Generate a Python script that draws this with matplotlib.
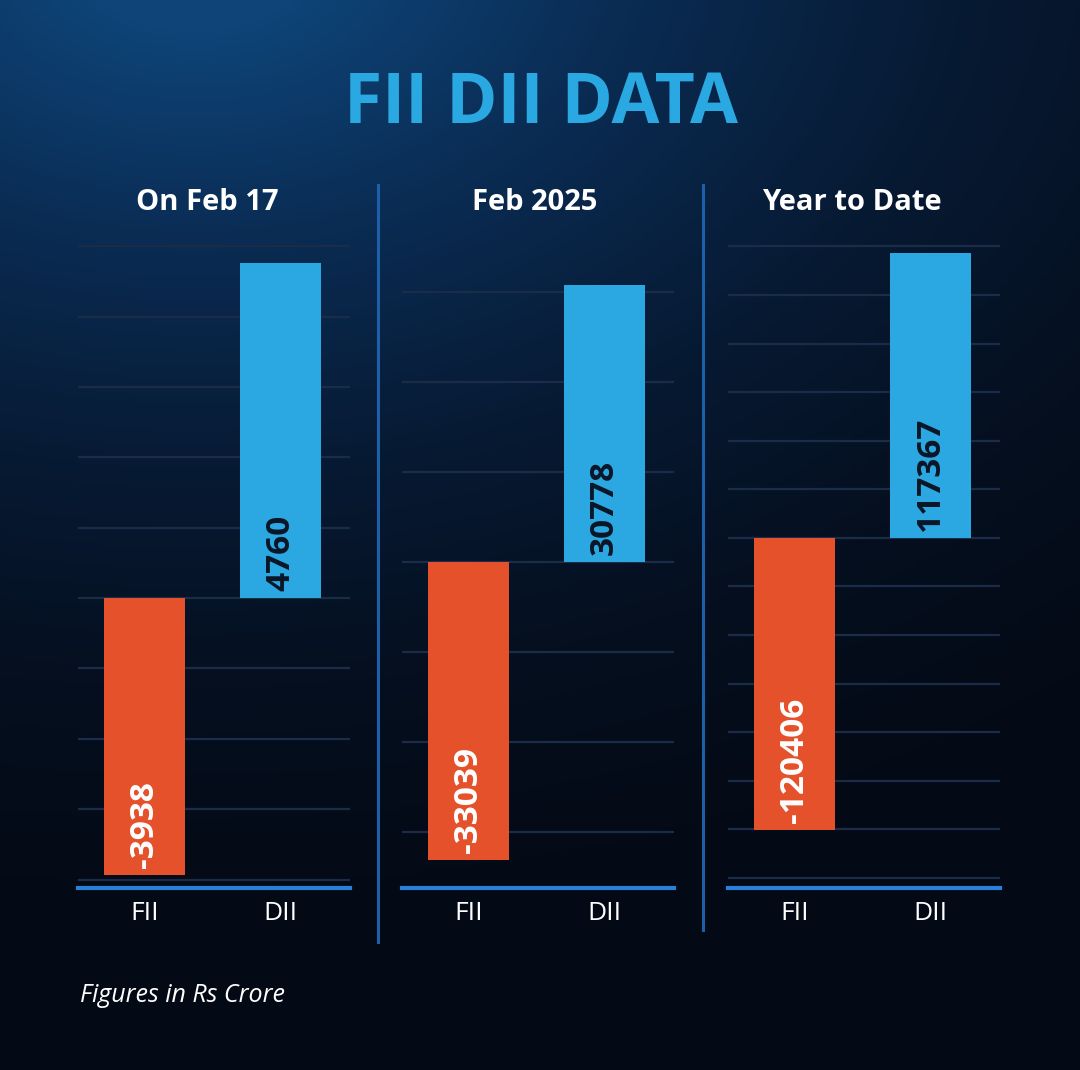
import numpy as np
import matplotlib.pyplot as plt
from matplotlib.colors import LinearSegmentedColormap
from matplotlib.ticker import MultipleLocator

# data
panels = ["On Feb 17", "Feb 2025", "Year to Date"]
categories = ["FII", "DII"]
fii_values = [-3938, -33039, -120406]
dii_values = [4760, 30778, 117367]

# layout (pixels)
W, H = 1080, 1070
axes_left = [78, 402, 728]
axes_width = 272
axes_top, axes_bottom = 240, 888
ylims = [(-4120, 5090), (-36200, 35800), (-144100, 122600)]
grid_steps = [1000, 10000, 20000]
title_x = [207, 535, 852]

orange = "#e5512a"
blue = "#2ba7e1"
line_blue = "#2a7fd6"
font = "Open Sans"

fig = plt.figure(figsize=(W / 100, H / 100), dpi=100)

# background gradient
bg = fig.add_axes([0, 0, 1, 1])
bg.axis("off")
yy, xx = np.mgrid[0:1:300j, 0:1:300j]
d = np.sqrt(((xx - 0.18) / 1.1) ** 2 + ((yy + 0.05) / 0.75) ** 2)
cmap = LinearSegmentedColormap.from_list(
    "bg", ["#0e4478", "#0a2b52", "#071a33", "#050f1f", "#040a15"]
)
bg.imshow(d, cmap=cmap, extent=[0, W, H, 0], aspect="auto", vmin=0.1, vmax=1.2)
bg.set_xlim(0, W)
bg.set_ylim(H, 0)

# separators
bg.plot([378, 378], [185, 942], color="#1d5fa8", lw=2.2)
bg.plot([703, 703], [185, 930], color="#1d5fa8", lw=2.2)

# titles
bg.text(541, 105, "FII DII DATA", color="#2aa8e2", fontsize=50, fontweight="bold",
        family=font, ha="center", va="center")
bg.text(80, 995, "Figures in Rs Crore", color="white", fontsize=18, style="italic",
        family=font, ha="left", va="center")

for i, name in enumerate(panels):
    bg.text(title_x[i], 202, name, color="white", fontsize=21, fontweight="bold",
            family=font, ha="center", va="center")

    ax = fig.add_axes([axes_left[i] / W, (H - axes_bottom) / H,
                       axes_width / W, (axes_bottom - axes_top) / H])
    ax.set_facecolor("none")
    fii, dii = fii_values[i], dii_values[i]
    ax.bar(0, fii, width=0.6, color=orange, zorder=3)
    ax.bar(1, dii, width=0.6, color=blue, zorder=3)

    ax.annotate(f"{fii}", (0, fii), xytext=(0, 5), textcoords="offset points",
                rotation=90, ha="center", va="bottom", color="white",
                fontsize=24, fontweight="bold", family=font, zorder=4)
    ax.annotate(f"{dii}", (1, 0), xytext=(0, 5), textcoords="offset points",
                rotation=90, ha="center", va="bottom", color="#0a1626",
                fontsize=24, fontweight="bold", family=font, zorder=4)

    ax.set_xlim(-0.49, 1.51)
    ax.set_ylim(*ylims[i])
    ax.yaxis.set_major_locator(MultipleLocator(grid_steps[i]))
    ax.grid(axis="y", color="#1a2c47", lw=1.6, zorder=0)
    ax.set_axisbelow(True)
    ax.tick_params(left=False, labelleft=False, bottom=False, pad=6)
    ax.set_xticks([0, 1], categories)
    for lab in ax.get_xticklabels():
        lab.set_color("white")
        lab.set_fontsize(19)
        lab.set_family(font)
    for s in ["top", "left", "right"]:
        ax.spines[s].set_visible(False)
    ax.spines["bottom"].set_color(line_blue)
    ax.spines["bottom"].set_linewidth(3)

fig.savefig("out.png", dpi=100)
